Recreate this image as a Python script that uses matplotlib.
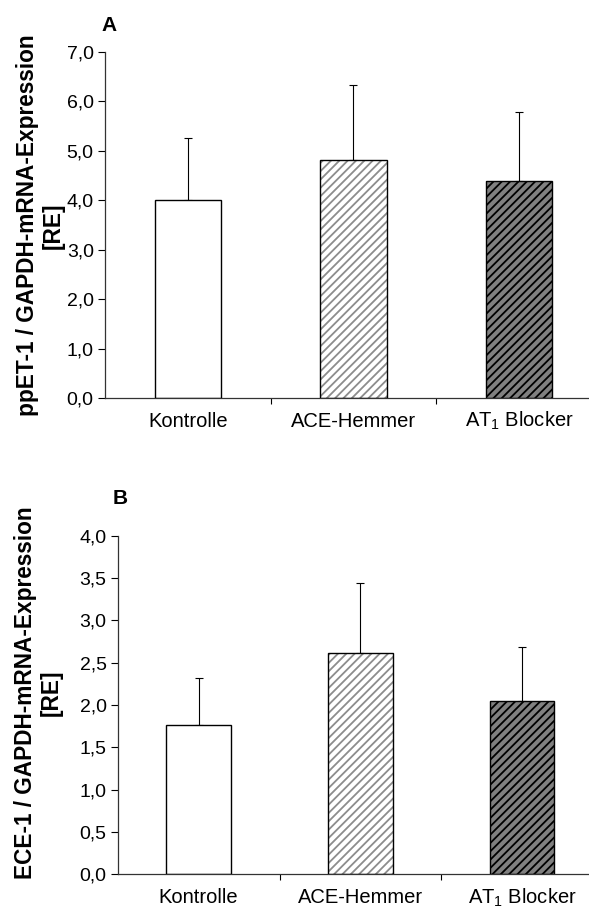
import matplotlib
matplotlib.use('Agg')
import matplotlib.pyplot as plt

plt.rcParams['font.family'] = ['Liberation Sans', 'DejaVu Sans']
plt.rcParams['mathtext.fontset'] = 'custom'
plt.rcParams['mathtext.rm'] = 'Liberation Sans'
plt.rcParams['mathtext.it'] = 'Liberation Sans'
plt.rcParams['hatch.linewidth'] = 1.3

# data
groups = ['Kontrolle', 'ACE-Hemmer', 'AT$_1$ Blocker']
ppet1_mean = [4.0, 4.82, 4.39]
ppet1_sd = [1.26, 1.52, 1.40]
ece1_mean = [1.76, 2.61, 2.05]
ece1_sd = [0.56, 0.83, 0.64]

face = ['white', 'white', '#808080']
hatch_col = ['white', '#8c8c8c', 'black']
hatches = ['', '////', '////']

fig = plt.figure(figsize=(5.89, 9.09), dpi=100)

panels = [
    # rect, means, sds, ymax, step, ylabel, letter, letter pos, label pos
    ([0.178, 0.5622, 0.83, 0.3806], ppet1_mean, ppet1_sd, 7.0, 1.0,
     'ppET-1 / GAPDH-mRNA-Expression\n[RE]', 'A', (0.173, 0.972), (0.068, 0.752)),
    ([0.200, 0.0382, 0.81, 0.3725], ece1_mean, ece1_sd, 4.0, 0.5,
     'ECE-1 / GAPDH-mRNA-Expression\n[RE]', 'B', (0.192, 0.452), (0.065, 0.238)),
]

for rect, means, sds, ymax, step, ylab, letter, lpos, ypos in panels:
    ax = fig.add_axes(rect)
    x = list(range(len(groups)))
    # hatch layer
    ax.bar(x, means, width=0.4, color=face, edgecolor=hatch_col,
           hatch=hatches, linewidth=0, zorder=2)
    # outline
    ax.bar(x, means, width=0.4, facecolor='none', edgecolor='black',
           linewidth=1.0, zorder=3)
    ax.errorbar(x, means, yerr=[[0] * len(sds), sds], fmt='none',
                ecolor='black', elinewidth=0.8, capsize=3, capthick=0.8,
                zorder=1)
    ax.set_xlim(-0.5, 2.45)
    ax.set_ylim(0, ymax)
    n = int(round(ymax / step))
    yt = [i * step for i in range(n + 1)]
    ax.set_yticks(yt)
    ax.set_yticklabels([f'{v:.1f}'.replace('.', ',') for v in yt], fontsize=14)
    ax.set_xticks([])
    ax.set_xticks([0.5, 1.5], minor=True)
    ax.tick_params(axis='x', which='minor', length=4, width=0.8, direction='out')
    ax.tick_params(axis='y', length=5, width=0.8, direction='out', pad=3)
    # category labels on a common baseline
    for xi, g in zip(x, groups):
        ax.annotate(g, xy=(xi, 0), xycoords=('data', 'axes fraction'),
                    xytext=(0, -21), textcoords='offset points',
                    ha='center', va='baseline', fontsize=14.5)
    for s in ['top', 'right']:
        ax.spines[s].set_visible(False)
    for s in ['left', 'bottom']:
        ax.spines[s].set_linewidth(0.9)
        ax.spines[s].set_color('#333333')
    fig.text(lpos[0], lpos[1], letter, fontsize=15, fontweight='bold',
             ha='left', va='center')
    fig.text(ypos[0], ypos[1], ylab, fontsize=16.3, fontweight='bold',
             rotation=90, ha='center', va='center', multialignment='center',
             linespacing=1.15)

fig.savefig('out.png', dpi=100, facecolor='white')
plt.close()
